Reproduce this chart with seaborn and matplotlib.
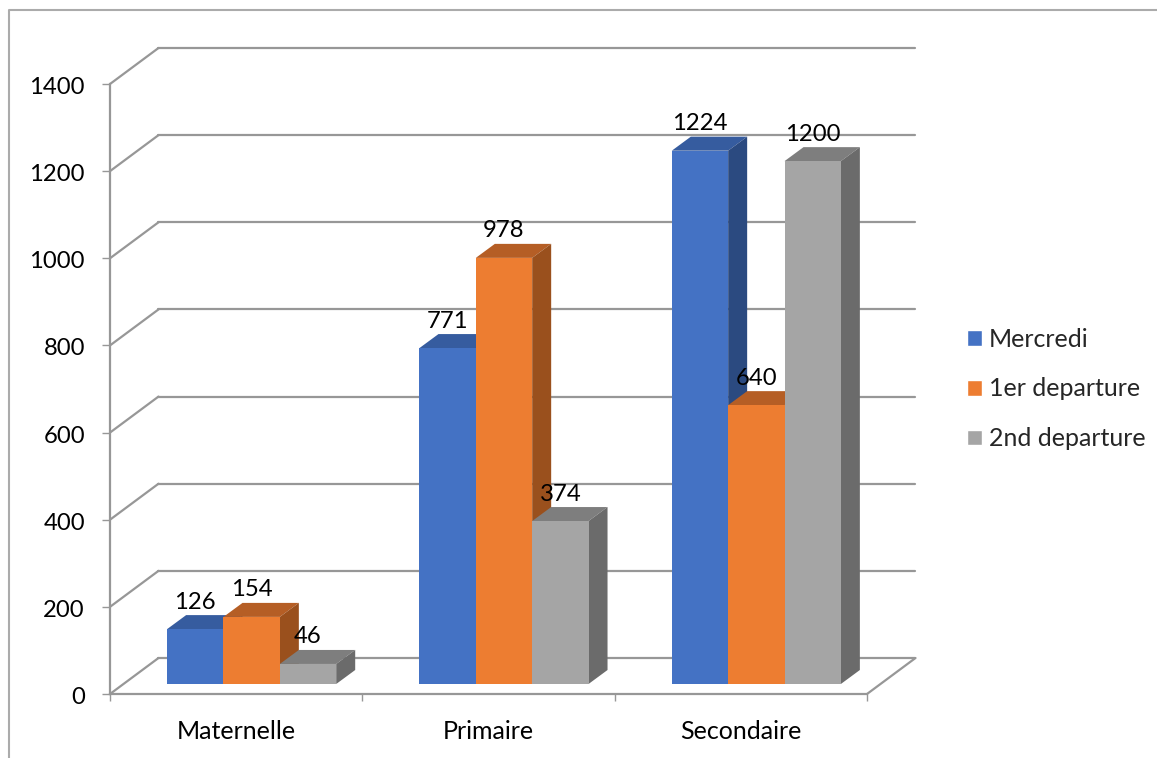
import matplotlib
matplotlib.use("Agg")
import matplotlib.pyplot as plt
from matplotlib.lines import Line2D
from matplotlib.patches import Polygon
from matplotlib.transforms import Affine2D, IdentityTransform
import numpy as np
import pandas as pd
import seaborn as sns

categories = ["Maternelle", "Primaire", "Secondaire"]
mercredi = [126, 771, 1224]
premier_depart = [154, 978, 640]
second_depart = [46, 374, 1200]
series_names = ["Mercredi", "1er departure", "2nd departure"]
y_ticks = [0, 200, 400, 600, 800, 1000, 1200, 1400]

FRONT = ["#4472C4", "#ED7D31", "#A5A5A5"]
TOP = ["#365C9F", "#B55E25", "#7E7E7E"]
SIDE = ["#2B4A80", "#9A501D", "#6B6B6B"]
GREY = "#979797"

W, H = 1157, 758
sns.set_theme(style="white", rc={"font.family": ["Lato", "DejaVu Sans"]})
plt.rcParams["font.family"] = ["Lato", "DejaVu Sans"]
FONT = 17.2
FONT_TEXT = 18

fig = plt.figure(figsize=(W / 100, H / 100), dpi=100, facecolor="white")
ax = fig.add_axes([110 / W, 1 - 694 / H, (867 - 110) / W, (694 - 84) / H])

table = pd.DataFrame({
    "category": categories * 3,
    "series": np.repeat(series_names, 3),
    "value": mercredi + premier_depart + second_depart,
})
sns.barplot(data=table, x="category", y="value", hue="series", hue_order=series_names,
            palette=FRONT, saturation=1, width=0.67, gap=0, errorbar=None, ax=ax)
ax.set_xlim(-0.5, 2.5)
ax.set_ylim(0, 1400)
ax.set_xlabel("")
ax.set_ylabel("")

# Pixel offsets of the 3D projection: back wall, bar row, bar depth
WALL = (48.5, 36)
ROW = (15.5, 10)
DEPTH = (19, 14)
bar_trans = ax.transData + Affine2D().translate(*ROW)
wall_trans = ax.transData + Affine2D().translate(*WALL)

# Back wall gridlines, each joined to the axis by a diagonal on the side wall
x_lo, x_hi = ax.get_xlim()
for v in y_ticks:
    ax.add_line(Line2D([x_lo, x_hi], [v, v], transform=wall_trans, color=GREY,
                       lw=1.6, clip_on=False, zorder=0.5))
    p0 = ax.transData.transform((x_lo, v))
    ax.add_line(Line2D([p0[0], p0[0] + WALL[0]], [p0[1], p0[1] + WALL[1]],
                       transform=IdentityTransform(), color=GREY, lw=1.6,
                       clip_on=False, zorder=0.5))
p1 = ax.transData.transform((x_hi, 0))
ax.add_line(Line2D([p1[0], p1[0] + WALL[0]], [p1[1], p1[1] + WALL[1]],
                   transform=IdentityTransform(), color=GREY, lw=1.6,
                   clip_on=False, zorder=0.5))

# Extrude every bar: top and side faces behind its front face, left to right
bars = []
for s, container in enumerate(ax.containers):
    for patch in container:
        bars.append((patch.get_x(), s, patch))
bars.sort(key=lambda item: item[0])

for order, (_, s, patch) in enumerate(bars):
    x0, x1 = patch.get_x(), patch.get_x() + patch.get_width()
    value = patch.get_height()
    z = 2 + order * 0.1
    patch.set_transform(bar_trans)
    patch.set_clip_on(False)
    patch.set_zorder(z + 0.05)
    patch.set_linewidth(0)
    (ax0, ay0), (ax1, ay1) = bar_trans.transform([(x0, 0), (x1, value)])
    dx, dy = DEPTH
    top = [(ax0, ay1), (ax1, ay1), (ax1 + dx, ay1 + dy), (ax0 + dx, ay1 + dy)]
    side = [(ax1, ay0), (ax1, ay1), (ax1 + dx, ay1 + dy), (ax1 + dx, ay0 + dy)]
    ax.add_patch(Polygon(top, closed=True, transform=IdentityTransform(),
                         facecolor=TOP[s], edgecolor="none", clip_on=False, zorder=z))
    ax.add_patch(Polygon(side, closed=True, transform=IdentityTransform(),
                         facecolor=SIDE[s], edgecolor="none", clip_on=False, zorder=z))
    ax.annotate(f"{value:.0f}", xy=((x0 + x1) / 2, value), xycoords=bar_trans,
                xytext=(0, 27), textcoords="offset pixels", ha="center", va="center",
                fontsize=FONT, color="black", zorder=20, annotation_clip=False)

# Axes
sns.despine(ax=ax, top=True, right=True)
for name in ("left", "bottom"):
    ax.spines[name].set_color(GREY)
    ax.spines[name].set_linewidth(1.6)
    ax.spines[name].set_zorder(1)
ax.set_yticks(y_ticks)
ax.set_xticks([0, 1, 2])
ax.set_xticklabels(categories)
ax.set_xticks([-0.5, 0.5, 1.5, 2.5], minor=True)
ax.tick_params(axis="y", which="major", left=True, length=6, width=1, color=GREY,
               pad=12, labelsize=FONT, labelcolor="black")
ax.tick_params(axis="x", which="major", bottom=False, length=0, pad=19,
               labelsize=FONT_TEXT, labelcolor="black")
ax.tick_params(axis="x", which="minor", bottom=True, length=5, width=1, color=GREY)
ax.grid(False)
ax.patch.set_alpha(0)
for label in ax.get_yticklabels():
    label.set_transform(label.get_transform() + Affine2D().translate(0, -1.5))

# Legend
sns.move_legend(ax, "center left", bbox_to_anchor=(967 / W, 1 - 389 / H),
                bbox_transform=fig.transFigure, frameon=False, title=None,
                fontsize=FONT_TEXT, handlelength=0.6, handleheight=0.6,
                handletextpad=0.28, labelspacing=1.07, borderpad=0, borderaxespad=0)

# Chart area border, open towards the right and lower edges
fig.add_artist(Line2D([9 / W, 9 / W, 1], [0, 1 - 10 / H, 1 - 10 / H],
                      transform=fig.transFigure, color="#ABABAB", lw=1.5))

fig.savefig("out.png", dpi=100, facecolor="white")
